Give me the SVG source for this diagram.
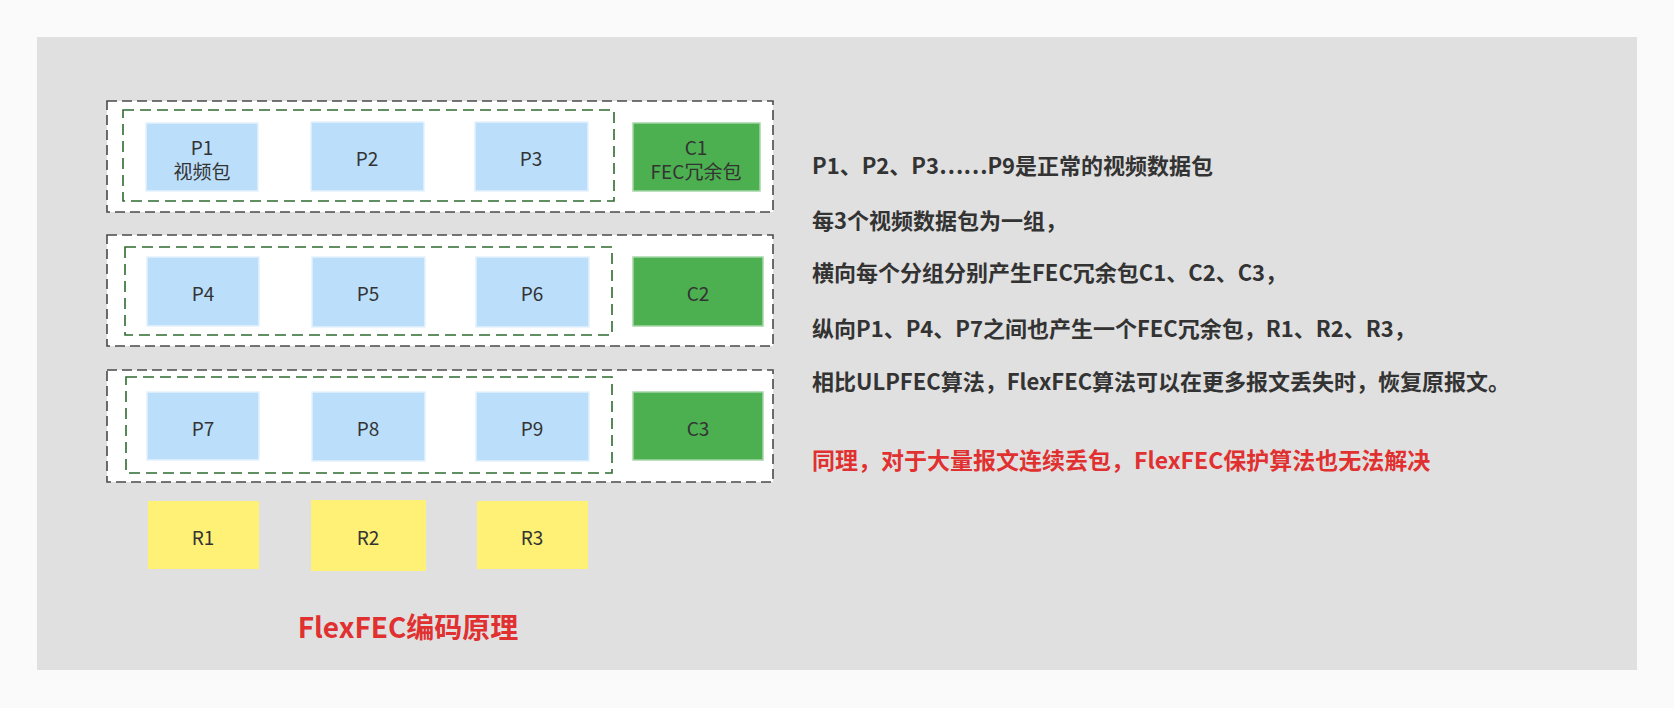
<svg xmlns="http://www.w3.org/2000/svg" width="1674" height="708" viewBox="0 0 1674 708">
<style>
.lbl{font-family:"Noto Sans CJK SC","Noto Sans",sans-serif;font-size:19px;fill:#333;text-anchor:middle;dominant-baseline:central}
.p{fill:#bbdefb;stroke:#e3f2fd;stroke-width:1.5}
.c{fill:#4caf50;stroke:#a5d6a7;stroke-width:1.5}
.r{fill:#fff176;stroke:none}
.outer{fill:#ffffff;stroke:#4a4a4a;stroke-width:1.6;stroke-dasharray:10 5}
.inner{fill:none;stroke:#2e6b2e;stroke-width:1.6;stroke-dasharray:11 6}
.desc{font-family:"Noto Sans CJK SC","Noto Sans",sans-serif;font-size:22px;font-weight:bold;fill:#333}
.red{font-family:"Noto Sans CJK SC","Noto Sans",sans-serif;font-weight:bold;fill:#e03030}
</style>
<rect x="0" y="0" width="1674" height="708" fill="#fafafa"/>
<rect x="37" y="37" width="1600" height="633" fill="#e0e0e0"/>
<g id="group-row1">
<rect class="outer" x="107" y="101" width="666" height="111"/>
<rect class="inner" x="123" y="110" width="491" height="91"/>
</g>
<g id="group-row2">
<rect class="outer" x="107" y="235" width="666" height="111"/>
<rect class="inner" x="125" y="247" width="487" height="88"/>
</g>
<g id="group-row3">
<rect class="outer" x="107" y="370" width="666" height="112"/>
<rect class="inner" x="126" y="377" width="486" height="96"/>
</g>
<g id="P1"><rect class="p" x="146" y="123" width="112" height="68"/><text class="lbl" x="202" y="146">P1</text><text class="lbl" x="202" y="170">视频包</text></g>
<g id="P2"><rect class="p" x="311" y="122" width="113" height="69"/><text class="lbl" x="367" y="157">P2</text></g>
<g id="P3"><rect class="p" x="475" y="122" width="113" height="69"/><text class="lbl" x="531" y="157">P3</text></g>
<g id="C1"><rect class="c" x="633" y="123" width="127" height="68"/><text class="lbl" x="696" y="146">C1</text><text class="lbl" x="696" y="170">FEC冗余包</text></g>
<g id="P4"><rect class="p" x="147" y="257" width="112" height="69"/><text class="lbl" x="203" y="292">P4</text></g>
<g id="P5"><rect class="p" x="312" y="257" width="113" height="70"/><text class="lbl" x="368" y="292">P5</text></g>
<g id="P6"><rect class="p" x="476" y="257" width="113" height="70"/><text class="lbl" x="532" y="292">P6</text></g>
<g id="C2"><rect class="c" x="633" y="257" width="130" height="69"/><text class="lbl" x="698" y="292">C2</text></g>
<g id="P7"><rect class="p" x="147" y="392" width="112" height="68"/><text class="lbl" x="203" y="427">P7</text></g>
<g id="P8"><rect class="p" x="312" y="392" width="113" height="69"/><text class="lbl" x="368" y="427">P8</text></g>
<g id="P9"><rect class="p" x="476" y="392" width="113" height="69"/><text class="lbl" x="532" y="427">P9</text></g>
<g id="C3"><rect class="c" x="633" y="392" width="130" height="68"/><text class="lbl" x="698" y="427">C3</text></g>
<g id="R1"><rect class="r" x="148" y="501" width="111" height="68"/><text class="lbl" x="203" y="536">R1</text></g>
<g id="R2"><rect class="r" x="311" y="500" width="115" height="71"/><text class="lbl" x="368" y="536">R2</text></g>
<g id="R3"><rect class="r" x="477" y="501" width="111" height="68"/><text class="lbl" x="532" y="536">R3</text></g>
<g id="connectors"></g>
<g id="title"><text class="red" x="408" y="638" font-size="28" text-anchor="middle">FlexFEC编码原理</text></g>
<g id="description">
<text class="desc" x="812" y="174">P1、P2、P3……P9是正常的视频数据包</text>
<text class="desc" x="812" y="229">每3个视频数据包为一组，</text>
<text class="desc" x="812" y="281">横向每个分组分别产生FEC冗余包C1、C2、C3，</text>
<text class="desc" x="812" y="337">纵向P1、P4、P7之间也产生一个FEC冗余包，R1、R2、R3，</text>
<text class="desc" x="812" y="390">相比ULPFEC算法，FlexFEC算法可以在更多报文丢失时，恢复原报文。</text>
<text class="red" x="812" y="469" font-size="23">同理，对于大量报文连续丢包，FlexFEC保护算法也无法解决</text>
</g>
</svg>
